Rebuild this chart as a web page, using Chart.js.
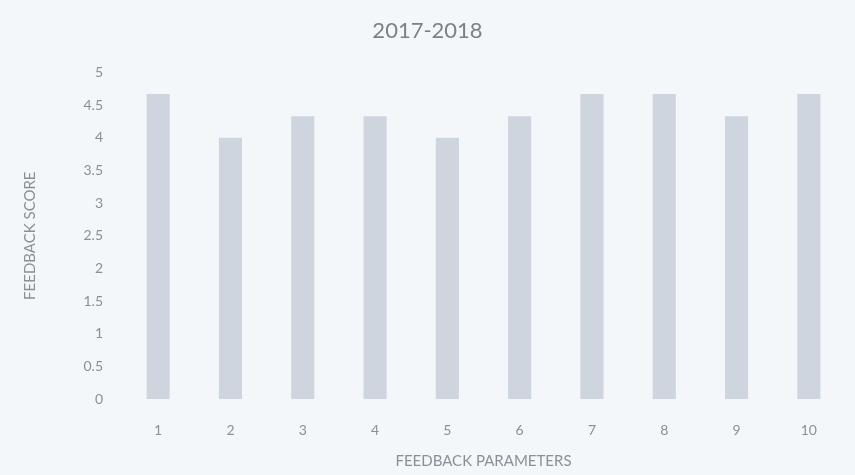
<!DOCTYPE html>
<html>
<head>
<meta charset="utf-8">
<script src="https://cdn.jsdelivr.net/npm/chart.js@4"></script>
<style>
  html, body { margin: 0; padding: 0; background: #f4f7fa; }
  #wrap { width: 855px; height: 475px; position: relative; }
</style>
</head>
<body>
<div id="wrap"><canvas id="chart"></canvas></div>
<script>
// Data
const parameters = ["1", "2", "3", "4", "5", "6", "7", "8", "9", "10"];
const scores = [4.67, 4.0, 4.33, 4.33, 4.0, 4.33, 4.67, 4.67, 4.33, 4.67];
const yTicks = [0, 0.5, 1, 1.5, 2, 2.5, 3, 3.5, 4, 4.5, 5];

const textColor = "#8a9097";
const fontFamily = "Lato, 'Liberation Sans', sans-serif";

new Chart(document.getElementById("chart"), {
  type: "bar",
  data: {
    labels: parameters,
    datasets: [
      {
        label: "Feedback score",
        data: scores,
        backgroundColor: "#cfd5de",
        borderWidth: 0,
        categoryPercentage: 1,
        barPercentage: 0.32,
      },
    ],
  },
  options: {
    responsive: true,
    maintainAspectRatio: false,
    animation: false,
    layout: { padding: { left: 10, right: 10, top: 0, bottom: 5 } },
    plugins: {
      legend: { display: false },
      tooltip: { enabled: false },
      title: {
        display: true,
        text: "2017-2018",
        color: "#7c8188",
        font: { family: fontFamily, size: 22, weight: "normal" },
        padding: { top: 18, bottom: 28 },
      },
    },
    scales: {
      x: {
        grid: { display: false, drawTicks: false },
        border: { display: false },
        ticks: { color: textColor, font: { family: fontFamily, size: 14 }, padding: 23 },
        title: {
          display: true,
          text: "FEEDBACK PARAMETERS",
          color: textColor,
          font: { family: fontFamily, size: 15 },
          padding: { top: 10, bottom: 0 },
        },
        afterFit: (scale) => { scale.height = 71; },
      },
      y: {
        min: 0,
        max: 5,
        afterBuildTicks: (scale) => { scale.ticks = yTicks.map((v) => ({ value: v })); },
        grid: { display: false, drawTicks: false },
        border: { display: false },
        ticks: {
          color: textColor,
          font: { family: fontFamily, size: 14 },
          padding: 19,
          callback: (value) => String(value),
        },
        title: {
          display: true,
          text: "FEEDBACK SCORE",
          color: textColor,
          font: { family: fontFamily, size: 15 },
          padding: { top: 11, bottom: 10 },
        },
        afterFit: (scale) => { scale.width = 112; },
      },
    },
  },
});
</script>
</body>
</html>
